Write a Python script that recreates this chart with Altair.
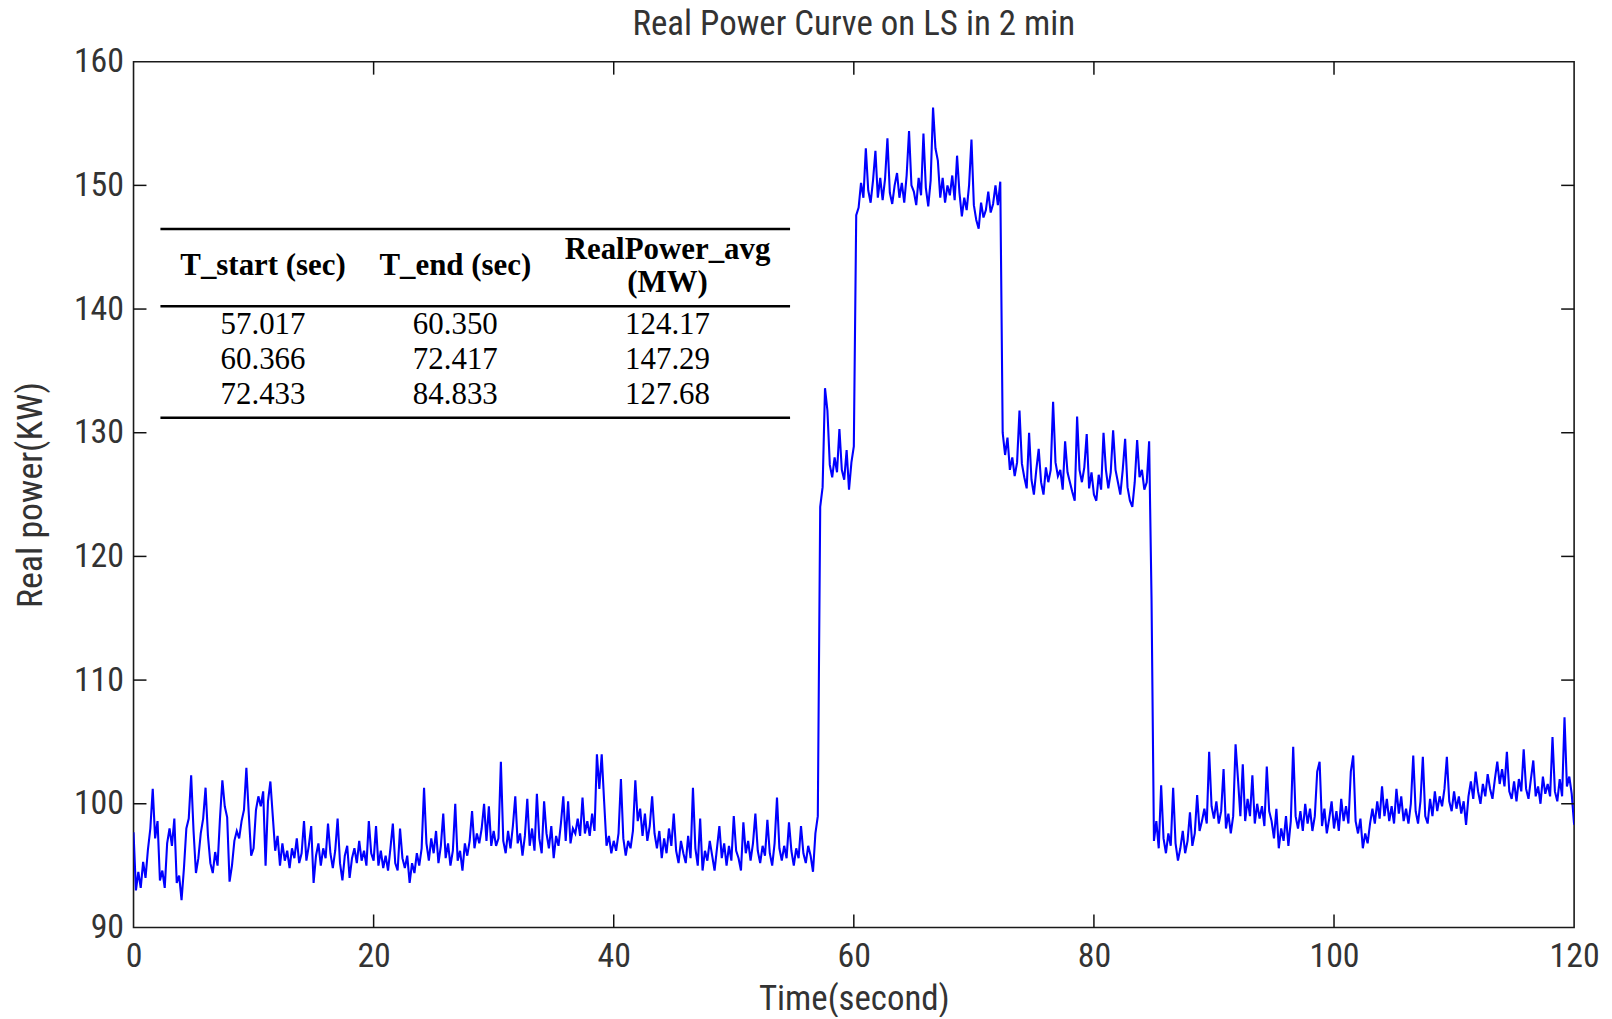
import altair as alt
import pandas as pd

# Real power (kW), one reading every 0.2 s, in 10 s blocks
STEP = 0.2
p_000_010 = [97.7, 93.0, 94.5, 93.2, 95.3, 94.0, 96.3, 98.0, 101.2, 97.2,
             98.6, 93.8, 94.6, 93.2, 96.8, 98.0, 96.6, 98.8, 93.6, 94.2,
             92.2, 94.8, 98.0, 98.8, 102.3, 97.8, 94.4, 95.6, 97.6, 98.8,
             101.3, 97.4, 95.2, 94.4, 96.1, 95.0, 98.8, 101.9, 99.8, 98.9,
             93.7, 95.0, 97.0, 97.8, 97.2, 98.6, 99.5, 102.9, 99.2, 95.8]
p_010_020 = [96.4, 99.5, 100.6, 99.8, 101.0, 95.0, 100.2, 101.8, 99.0, 96.2,
             97.4, 95.0, 96.8, 95.4, 96.2, 94.8, 96.4, 95.6, 97.2, 95.2,
             96.0, 98.6, 95.4, 96.6, 98.2, 93.6, 95.8, 96.8, 95.0, 96.4,
             95.6, 98.4, 96.0, 94.8, 96.2, 98.8, 95.2, 93.8, 95.8, 96.6,
             94.0, 95.6, 96.4, 95.2, 97.0, 95.4, 96.2, 95.0, 98.6, 96.0]
p_020_030 = [95.4, 98.2, 95.0, 96.2, 94.8, 95.8, 94.6, 96.4, 98.4, 95.2,
             94.6, 98.0, 95.6, 94.8, 95.8, 93.6, 95.2, 94.4, 96.0, 95.0,
             96.4, 101.3, 96.8, 95.4, 97.2, 96.0, 97.8, 95.2, 96.6, 99.2,
             95.6, 96.8, 95.0, 96.2, 100.0, 95.4, 96.2, 94.6, 96.8, 95.8,
             97.0, 99.4, 96.4, 97.6, 96.8, 98.0, 100.0, 97.0, 99.8, 96.6]
p_030_040 = [97.8, 96.6, 97.2, 103.4, 97.0, 96.0, 97.8, 96.4, 98.2, 100.6,
             96.8, 97.6, 95.8, 97.4, 100.4, 96.6, 98.0, 96.2, 100.8, 97.2,
             96.0, 100.2, 97.6, 96.4, 98.2, 95.6, 97.4, 96.6, 98.4, 100.6,
             97.0, 100.2, 96.8, 98.0, 97.6, 98.8, 97.4, 100.5, 97.6, 98.6,
             97.4, 99.2, 97.8, 104.0, 101.2, 104.0, 100.2, 96.6, 97.4, 96.0]
p_040_050 = [97.0, 96.2, 97.6, 102.0, 97.2, 95.8, 97.0, 96.4, 97.8, 101.9,
             98.6, 99.6, 97.4, 99.2, 97.0, 98.2, 100.6, 97.6, 96.4, 97.8,
             95.6, 97.2, 96.0, 98.0, 96.6, 99.2, 96.2, 95.2, 97.0, 96.0,
             95.2, 97.4, 95.6, 101.3, 96.4, 95.0, 98.8, 94.6, 96.2, 95.4,
             97.0, 95.8, 94.6, 96.4, 98.2, 95.6, 96.8, 95.0, 96.6, 95.4]
p_050_060 = [99.0, 96.2, 95.6, 94.6, 98.5, 96.0, 97.0, 95.4, 96.8, 99.2,
             96.2, 95.2, 96.6, 95.8, 98.7, 96.0, 95.0, 96.8, 100.5, 96.4,
             95.4, 96.6, 95.6, 98.5, 96.2, 95.0, 96.4, 95.6, 98.2, 96.0,
             95.2, 96.6, 95.8, 94.5, 97.6, 99.0, 124.0, 125.6, 133.6, 131.8,
             127.4, 126.4, 128.0, 126.8, 130.3, 127.0, 126.2, 128.6, 125.4, 127.6]
p_060_070 = [128.9, 147.6, 148.2, 150.2, 149.0, 153.0, 149.6, 148.6, 150.4, 152.8,
             149.0, 150.6, 148.8, 150.5, 153.8, 149.4, 148.5, 150.0, 151.0, 149.0,
             150.2, 148.6, 150.8, 154.4, 150.0, 149.5, 148.4, 150.6, 149.2, 154.2,
             149.8, 148.3, 150.4, 156.3, 153.0, 152.0, 149.0, 150.6, 148.6, 150.0,
             149.2, 150.8, 148.8, 152.4, 149.4, 147.5, 149.0, 148.0, 150.0, 153.7]
p_070_080 = [148.4, 147.2, 146.5, 148.6, 147.4, 148.0, 149.5, 147.8, 148.5, 150.0,
             148.4, 150.3, 130.0, 128.2, 129.6, 127.0, 128.0, 126.5, 127.6, 131.8,
             127.5, 126.4, 125.5, 130.0, 126.2, 125.0, 127.0, 128.7, 126.0, 125.0,
             127.2, 126.0, 127.0, 132.5, 127.6, 126.5, 127.0, 125.4, 129.3, 126.8,
             126.0, 125.2, 124.5, 131.3, 127.0, 126.0, 127.2, 129.9, 125.5, 126.8]
p_080_090 = [125.0, 124.5, 126.6, 125.4, 130.0, 127.0, 125.5, 126.8, 130.2, 127.0,
             126.0, 125.0, 127.0, 129.5, 125.6, 124.5, 124.0, 126.0, 129.4, 126.4,
             127.0, 125.4, 126.0, 129.3, 116.5, 97.0, 98.6, 96.4, 101.5, 97.2,
             96.0, 97.6, 96.6, 101.3, 96.8, 95.4, 96.4, 97.8, 96.0, 97.0,
             99.3, 96.6, 97.6, 100.7, 97.8, 98.6, 99.6, 98.4, 104.2, 99.8]
p_090_100 = [98.8, 100.2, 98.4, 99.4, 102.8, 98.0, 99.2, 97.6, 99.0, 104.8,
             102.0, 99.0, 103.2, 98.6, 100.4, 99.0, 102.3, 98.4, 100.0, 98.8,
             99.8, 98.2, 103.0, 99.4, 98.6, 97.2, 99.6, 96.4, 98.0, 97.0,
             99.0, 96.6, 98.6, 104.6, 99.0, 98.0, 99.4, 97.8, 100.0, 98.4,
             99.6, 97.8, 99.0, 102.6, 103.4, 98.2, 99.6, 97.6, 98.8, 100.2]
p_100_110 = [98.0, 99.4, 97.8, 100.4, 98.6, 99.8, 98.4, 102.6, 103.9, 98.6,
             97.6, 98.8, 96.4, 97.6, 96.8, 98.4, 99.6, 98.4, 100.2, 98.8,
             101.4, 99.0, 100.4, 98.6, 99.8, 98.4, 101.2, 99.2, 100.6, 98.6,
             99.6, 98.4, 100.0, 103.9, 99.4, 98.4, 100.2, 103.8, 99.0, 98.4,
             100.4, 99.0, 101.0, 99.4, 100.6, 99.8, 101.2, 103.8, 100.2, 99.4]
p_110_120 = [101.0, 99.6, 100.6, 99.2, 100.2, 98.3, 100.6, 101.8, 100.4, 102.6,
             101.0, 100.0, 101.6, 100.6, 102.4, 101.2, 100.4, 102.0, 103.4, 101.6,
             102.8, 101.4, 104.2, 101.0, 100.4, 101.8, 100.2, 102.0, 101.0, 104.4,
             101.2, 100.4, 102.0, 103.5, 100.6, 101.4, 100.0, 102.2, 100.8, 101.6,
             100.6, 105.4, 101.0, 100.2, 102.0, 100.6, 107.0, 101.4, 102.2, 100.8,
             98.3]

# Table shown inside the plot
table_headers = ["T_start (sec)", "T_end (sec)", "RealPower_avg", "(MW)"]
t_start = ["57.017", "60.366", "72.433"]
t_end = ["60.350", "72.417", "84.833"]
power_avg = ["124.17", "147.29", "127.68"]

# Axis ticks
x_ticks = [0, 20, 40, 60, 80, 100, 120]
y_ticks = [90, 100, 110, 120, 130, 140, 150, 160]

power = (p_000_010 + p_010_020 + p_020_030 + p_030_040 + p_040_050 + p_050_060
         + p_060_070 + p_070_080 + p_080_090 + p_090_100 + p_100_110 + p_110_120)
df = pd.DataFrame({"t": [round(i * STEP, 1) for i in range(len(power))], "p": power})

W, H = 1446, 869
FONT = "Liberation Sans Narrow, Arial Narrow, Roboto Condensed, DejaVu Sans Condensed, sans-serif"
SERIF = "Liberation Serif, Times New Roman, serif"
TXT = "#333333"
TICK = 13

xscale = alt.Scale(domain=[0, 120], nice=False, zero=False)
yscale = alt.Scale(domain=[90, 160], nice=False, zero=False)

line = alt.Chart(df).mark_line(color="#0000ff", strokeWidth=2.1, clip=True).encode(
    x=alt.X("t:Q", scale=xscale,
            axis=alt.Axis(values=x_ticks, title="Time(second)", ticks=False, domain=False,
                          grid=False, labelFont=FONT, labelFontSize=34, labelColor=TXT,
                          labelPadding=12, labelFlush=False, labelOverlap=False,
                          titleFont=FONT, titleFontSize=35, titleFontWeight="normal",
                          titleColor=TXT, titlePadding=8)),
    y=alt.Y("p:Q", scale=yscale,
            axis=alt.Axis(values=y_ticks, title="Real power(KW)", ticks=False, domain=False,
                          grid=False, labelFont=FONT, labelFontSize=34, labelColor=TXT,
                          labelPadding=10, labelFlush=False, labelOverlap=False,
                          titleFont=FONT, titleFontSize=36, titleFontWeight="normal",
                          titleColor=TXT, titlePadding=24)),
)

xt = pd.DataFrame({"t": x_ticks[1:-1]})
yt = pd.DataFrame({"p": y_ticks[1:-1]})
tick_col = "#111111"
xb = alt.Chart(xt).mark_rule(color=tick_col, strokeWidth=1.5).encode(
    x=alt.X("t:Q", scale=xscale), y=alt.value(H), y2=alt.value(H - TICK))
xtp = alt.Chart(xt).mark_rule(color=tick_col, strokeWidth=1.5).encode(
    x=alt.X("t:Q", scale=xscale), y=alt.value(0), y2=alt.value(TICK))
yl = alt.Chart(yt).mark_rule(color=tick_col, strokeWidth=1.5).encode(
    y=alt.Y("p:Q", scale=yscale), x=alt.value(0), x2=alt.value(TICK))
yr = alt.Chart(yt).mark_rule(color=tick_col, strokeWidth=1.5).encode(
    y=alt.Y("p:Q", scale=yscale), x=alt.value(W), x2=alt.value(W - TICK))

# Table layout (pixels inside the plot area)
col_x = [130, 323, 536]
rule_y = [168, 245.5, 357.5]
row_y = [264, 299, 335]
layers = [line, xb, xtp, yl, yr]

for ry in rule_y:
    layers.append(alt.Chart().mark_rule(color="black", strokeWidth=2.5).encode(
        x=alt.value(27), x2=alt.value(659), y=alt.value(ry)))

hdr_pos = [(col_x[0], 205), (col_x[1], 205), (col_x[2], 189), (col_x[2], 222)]
for text, (hx, hy) in zip(table_headers, hdr_pos):
    layers.append(alt.Chart().mark_text(font=SERIF, fontSize=31, fontWeight="bold",
                                        color="black", align="center", baseline="middle").encode(
        x=alt.value(hx), y=alt.value(hy), text=alt.value(text)))

for r in range(3):
    for c, col in enumerate([t_start, t_end, power_avg]):
        layers.append(alt.Chart().mark_text(font=SERIF, fontSize=31, color="black",
                                            align="center", baseline="middle").encode(
            x=alt.value(col_x[c]), y=alt.value(row_y[r]), text=alt.value(col[r])))

chart = alt.layer(*layers).properties(
    width=W, height=H,
    title=alt.TitleParams("Real Power Curve on LS in 2 min", font=FONT, fontSize=35,
                          fontWeight="normal", color=TXT, anchor="middle", offset=3),
    padding={"left": 126, "top": 52, "right": 30, "bottom": 88},
    autosize=alt.AutoSizeParams(type="none"),
).configure(background="white").configure_view(stroke="#1a1a1a", strokeWidth=1.6)

chart.save("out.html", embed_options={"renderer": "svg", "actions": False})
